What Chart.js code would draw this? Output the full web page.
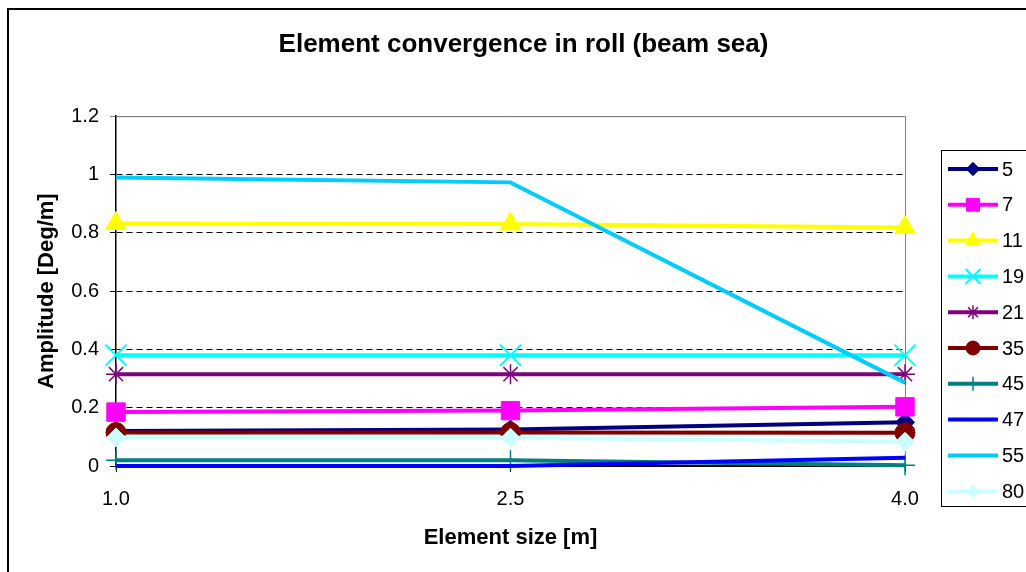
<!DOCTYPE html>
<html>
<head>
<meta charset="utf-8">
<script src="https://cdn.jsdelivr.net/npm/chart.js@4/dist/chart.umd.min.js"></script>
<style>
  html, body { margin: 0; padding: 0; background: #fff; }
  #wrap { width: 1026px; height: 572px; }
</style>
</head>
<body>
<div id="wrap"><canvas id="roll" width="1026" height="572"></canvas></div>
<script>
// element sizes [m]
const sizes = ['1.0', '2.5', '4.0'];

// roll amplitude [Deg/m] per wave period series
const s5  = [0.12, 0.125, 0.15];
const s7  = [0.185, 0.19, 0.203];
const s11 = [0.832, 0.83, 0.818];
const s19 = [0.38, 0.38, 0.38];
const s21 = [0.315, 0.315, 0.315];
const s35 = [0.115, 0.115, 0.114];
const s45 = [0.02, 0.02, 0.003];
const s47 = [0.0, 0.0, 0.028];
const s55 = [0.99, 0.973, 0.286];
const s80 = [0.098, 0.097, 0.083];

const seriesNames = ['5', '7', '11', '19', '21', '35', '45', '47', '55', '80'];
const seriesData = [s5, s7, s11, s19, s21, s35, s45, s47, s55, s80];

const yTicks = [0, 0.2, 0.4, 0.6, 0.8, 1, 1.2];

// styling (Excel default palette)
const colors = ['#000080', '#FF00FF', '#FFFF00', '#00FFFF', '#800080',
                '#800000', '#008080', '#0000FF', '#00CCFF', '#CCFFFF'];
const markers = ['rectRot', 'rect', 'triangle', 'crossRot', 'star',
                 'circle', 'cross', false, false, 'rectRot'];
const markerSize = [9.5, 13, 12, 15, 10, 10, 10, 0, 0, 9.5];
const markerLine = [1, 1, 1, 2, 1.5, 1, 1.5, 1, 1, 1];

const FONT = 'Arial, "Liberation Sans", sans-serif';

const datasets = seriesNames.map((name, i) => ({
    label: name,
    data: seriesData[i],
    borderColor: colors[i],
    backgroundColor: colors[i],
    borderWidth: 4,
    pointStyle: markers[i],
    pointRadius: markerSize[i],
    pointBorderWidth: markerLine[i],
    pointBorderColor: colors[i],
    pointBackgroundColor: colors[i],
    tension: 0,
    clip: false,
    order: -i   // later series on top, like Excel
}));

function isTop(v) { return Math.abs(v - 1.2) < 1e-6; }

// plot frame, outer border and legend box
const framePlugin = {
    id: 'frame',
    beforeDatasetsDraw(chart) {
        const {ctx, chartArea: a} = chart;
        ctx.save();
        ctx.strokeStyle = '#808080';
        ctx.lineWidth = 1;
        ctx.beginPath();
        ctx.moveTo(a.left, a.top + 0.5);
        ctx.lineTo(a.right + 0.5, a.top + 0.5);
        ctx.lineTo(a.right + 0.5, a.bottom);
        ctx.stroke();
        ctx.restore();
    },
    afterDraw(chart) {
        const ctx = chart.ctx;
        ctx.save();
        // outer chart border
        ctx.strokeStyle = '#000';
        ctx.lineWidth = 2;
        ctx.strokeRect(8, 9, 1100, 1000);

        // legend
        ctx.lineWidth = 1;
        ctx.strokeRect(941.5, 150.5, 200, 356);
        const dsets = chart.data.datasets;
        dsets.forEach((ds, i) => {
            const y = 169 + i * 35.8;
            ctx.strokeStyle = ds.borderColor;
            ctx.lineWidth = 4;
            ctx.beginPath();
            ctx.moveTo(948, y);
            ctx.lineTo(998, y);
            ctx.stroke();
            if (ds.pointStyle) {
                ctx.fillStyle = ds.pointBackgroundColor;
                ctx.strokeStyle = ds.pointBorderColor;
                ctx.lineWidth = ds.pointBorderWidth;
                Chart.helpers.drawPoint(ctx, {
                    pointStyle: ds.pointStyle,
                    radius: ds.pointRadius * 0.7,
                    rotation: 0,
                    borderWidth: ds.pointBorderWidth
                }, 973, y);
            }
            ctx.fillStyle = '#000';
            ctx.font = '20px ' + FONT;
            ctx.textAlign = 'left';
            ctx.textBaseline = 'middle';
            ctx.fillText(ds.label, 1002, y + 1);
        });
        ctx.restore();
    }
};

const rollChart = new Chart(document.getElementById('roll').getContext('2d'), {
    type: 'line',
    data: { labels: sizes, datasets: datasets },
    options: {
        responsive: false,
        animation: false,
        layout: { padding: { left: 21, right: 0, top: 0, bottom: 0 } },
        plugins: {
            legend: { display: false },
            tooltip: { enabled: false },
            title: {
                display: true,
                text: 'Element convergence in roll (beam sea)',
                color: '#000',
                font: { family: FONT, size: 26, weight: 'bold' },
                padding: { top: 29, bottom: 56 }
            }
        },
        scales: {
            x: {
                type: 'category',
                offset: false,
                afterFit(scale) { scale.height = 106; },
                grid: { drawOnChartArea: false, drawTicks: true, tickLength: 6, tickColor: '#000' },
                border: { color: '#000', width: 1.5 },
                ticks: { color: '#000', font: { family: FONT, size: 20 }, padding: 15, maxRotation: 0 },
                title: {
                    display: true,
                    text: 'Element size [m]',
                    color: '#000',
                    font: { family: FONT, size: 22, weight: 'bold' },
                    padding: { top: 0, bottom: 21 }
                }
            },
            y: {
                min: 0,
                max: 1.2,
                afterFit(scale) { scale.width = 95; },
                afterBuildTicks(scale) { scale.ticks = yTicks.map(v => ({ value: v })); },
                grid: {
                    color: c => isTop(c.tick.value) ? '#808080' : '#000',
                    tickColor: c => isTop(c.tick.value) ? '#808080' : '#000',
                    tickLength: 6,
                    lineWidth: 1
                },
                border: {
                    color: '#000',
                    width: 1.5,
                    dash: c => (isTop(c.tick.value) || c.tick.value === 0) ? [] : [6, 4]
                },
                ticks: {
                    color: '#000',
                    font: { family: FONT, size: 20 },
                    padding: 11,
                    callback: v => String(+Number(v).toFixed(1))
                },
                title: {
                    display: true,
                    text: 'Amplitude [Deg/m]',
                    color: '#000',
                    font: { family: FONT, size: 22, weight: 'bold' },
                    padding: { top: 13, bottom: 0 }
                }
            },
            // empty right axis that reserves room for the legend box
            side: {
                position: 'right',
                min: 0,
                max: 1,
                afterFit(scale) { scale.width = 121; },
                grid: { display: false },
                border: { display: false },
                ticks: { display: false }
            }
        }
    },
    plugins: [framePlugin]
});
</script>
</body>
</html>
